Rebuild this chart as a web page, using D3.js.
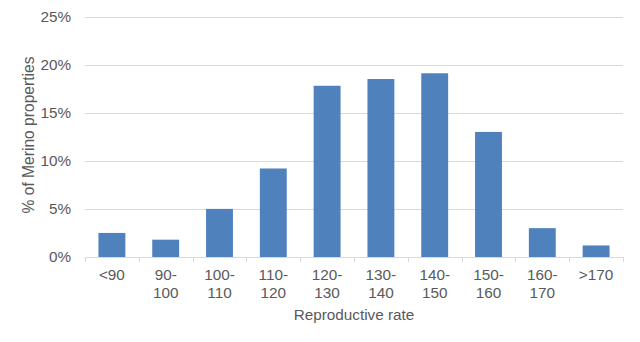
<!DOCTYPE html>
<html><head><meta charset="utf-8">
<script src="https://cdn.jsdelivr.net/npm/d3@7"></script>
<style>body{margin:0;background:#fff}svg{display:block}text{font-family:"Liberation Sans",Arial,sans-serif;fill:#595959}</style>
</head><body>
<svg id="c" width="640" height="342"></svg>
<script>
const categories = ["<90","90-100","100-110","110-120","120-130","130-140","140-150","150-160","160-170",">170"];
const values = [2.5,1.8,5.0,9.2,17.8,18.5,19.1,13.0,3.0,1.2];
const yTicks = [0,5,10,15,20,25];
const xTitle = "Reproductive rate";
const yTitle = "% of Merino properties";

const svg = d3.select("#c");
const m = {l:85, r:623, t:16.5, b:257};
const x = d3.scaleBand().domain(categories).range([m.l,m.r]).paddingInner(0.5).paddingOuter(0.25);
const y = d3.scaleLinear().domain([0,25]).range([m.b,m.t]);
const fs = 15.3;

// gridlines
svg.append("g").selectAll("line").data(yTicks.filter(d=>d>0)).join("line")
  .attr("x1",m.l).attr("x2",m.r).attr("y1",d=>Math.round(y(d))+0.5).attr("y2",d=>Math.round(y(d))+0.5)
  .attr("stroke","#d9d9d9").attr("stroke-width",1);

// y labels
svg.append("g").selectAll("text").data(yTicks).join("text")
  .attr("x",71).attr("y",d=>y(d)).attr("dy","0.35em").attr("text-anchor","end")
  .attr("font-size",fs).text(d=>d+"%");

// bars
svg.append("g").selectAll("rect").data(values).join("rect")
  .attr("x",(d,i)=>x(categories[i])).attr("width",x.bandwidth())
  .attr("y",d=>y(d)).attr("height",d=>y(0)-y(d)).attr("fill","#4f81bd");

// x axis line and ticks
svg.append("line").attr("x1",m.l).attr("x2",m.r).attr("y1",Math.round(y(0))+0.5).attr("y2",Math.round(y(0))+0.5)
  .attr("stroke","#d9d9d9");
const bounds = d3.range(categories.length+1).map(i=>m.l+i*(m.r-m.l)/categories.length);
svg.append("g").selectAll("line").data(bounds).join("line")
  .attr("x1",d=>Math.round(d)+0.5).attr("x2",d=>Math.round(d)+0.5)
  .attr("y1",Math.round(y(0))).attr("y2",Math.round(y(0))+5).attr("stroke","#d9d9d9");

// x labels
const xl = svg.append("g").selectAll("text").data(categories).join("text")
  .attr("text-anchor","middle").attr("font-size",fs)
  .attr("transform",d=>`translate(${x(d)+x.bandwidth()/2},0)`);
xl.each(function(d){
  const parts = d.includes("-") ? [d.split("-")[0]+"-", d.split("-")[1]] : [d];
  d3.select(this).selectAll("tspan").data(parts).join("tspan")
    .attr("x",0).attr("y",(p,i)=>275+i*18).attr("dy","0.35em").text(p=>p);
});

// axis titles
svg.append("text").attr("x",354).attr("y",315).attr("dy","0.35em").attr("text-anchor","middle")
  .attr("font-size",fs).text(xTitle);
svg.append("text").attr("transform","translate(29,135) rotate(-90)").attr("dy","0.35em")
  .attr("text-anchor","middle").attr("font-size",15.6).text(yTitle);
</script>
</body></html>
